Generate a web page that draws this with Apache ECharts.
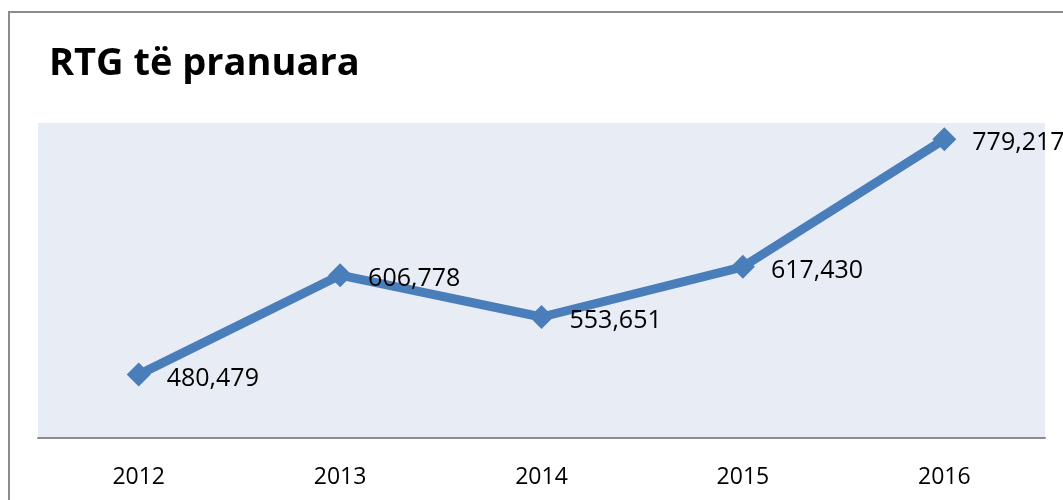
<!DOCTYPE html>
<html lang="sq">
<head>
    <meta charset="UTF-8">
    <title>RTG të pranuara</title>
    <script src="https://cdn.jsdelivr.net/npm/echarts@6/dist/echarts.min.js"></script>
    <style>
        html, body { margin: 0; padding: 0; background: #fff; }
        #chart { width: 1063px; height: 500px; }
    </style>
</head>
<body>
<div id="chart"></div>
<script type="text/javascript">
    var years = ['2012', '2013', '2014', '2015', '2016'];
    var rtgValues = [480479, 606778, 553651, 617430, 779217];
    var titleText = 'RTG të pranuara';

    var myChart = echarts.init(document.getElementById('chart'));

    var option = {
        animation: false,
        graphic: [
            {
                type: 'rect',
                shape: { x: 9, y: 12, width: 1200, height: 600 },
                style: { fill: 'none', stroke: '#8c8c8c', lineWidth: 2 },
                z: 0
            }
        ],
        title: {
            text: titleText,
            left: 44,
            top: 40,
            textStyle: {
                fontFamily: 'Open Sans',
                fontWeight: 'bold',
                fontSize: 38,
                color: '#000'
            }
        },
        grid: {
            left: 38,
            right: 18,
            top: 123,
            bottom: 62,
            show: true,
            backgroundColor: '#e8ecf4',
            borderWidth: 0
        },
        xAxis: {
            type: 'category',
            data: years,
            boundaryGap: true,
            axisLine: { lineStyle: { color: '#8c8c8c', width: 2 } },
            axisTick: { show: false },
            axisLabel: {
                margin: 28,
                fontFamily: 'Open Sans',
                fontSize: 23,
                color: '#000'
            }
        },
        yAxis: {
            type: 'value',
            min: 400000,
            max: 800000,
            show: false,
            splitLine: { show: false }
        },
        series: [
            {
                name: titleText,
                type: 'line',
                data: rtgValues,
                symbol: 'diamond',
                symbolSize: 24,
                itemStyle: { color: '#4a7ebb' },
                lineStyle: { color: '#4a7ebb', width: 9 },
                label: {
                    show: true,
                    position: 'right',
                    distance: 16,
                    offset: [0, 4],
                    fontFamily: 'Open Sans',
                    fontSize: 25,
                    color: '#000',
                    formatter: function (p) {
                        return p.value.toLocaleString('en-US');
                    }
                }
            }
        ]
    };
    myChart.setOption(option);
</script>
</body>
</html>
